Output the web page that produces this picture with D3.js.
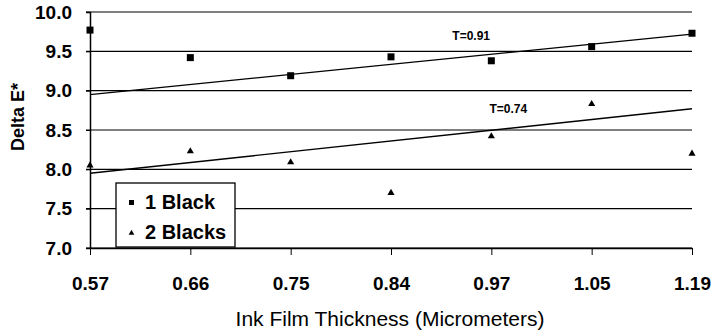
<!DOCTYPE html>
<html>
<head>
<meta charset="utf-8">
<script src="https://cdn.jsdelivr.net/npm/d3@7"></script>
<style>
  body { margin: 0; background: #fff; }
  svg { font-family: Arial, "Liberation Sans", sans-serif; }
</style>
</head>
<body>
<svg id="chart" width="715" height="332"></svg>
<script>
// data
var thickness = ["0.57", "0.66", "0.75", "0.84", "0.97", "1.05", "1.19"];
var oneBlack = [9.77, 9.42, 9.19, 9.43, 9.38, 9.56, 9.73];
var twoBlacks = [8.05, 8.23, 8.09, 7.70, 8.42, 8.83, 8.20];
var yTicks = [7.0, 7.5, 8.0, 8.5, 9.0, 9.5, 10.0];
// trend lines as drawn (start / end values)
var trendOne = [8.95, 9.72];
var trendTwo = [7.95, 8.77];
var trendLabels = ["T=0.91", "T=0.74"];

var margin = {top: 12, right: 23, bottom: 84, left: 90};
var width = 715 - margin.left - margin.right;
var height = 332 - margin.top - margin.bottom;

var svg = d3.select("#chart");
var g = svg.append("g")
  .attr("transform", "translate(" + margin.left + "," + margin.top + ")");

var x = d3.scalePoint().domain(thickness).range([0, width]);
var y = d3.scaleLinear().domain([7, 10]).range([height, 0]);

// gridlines
g.selectAll(".grid").data(yTicks).enter().append("line")
  .attr("x1", -4).attr("x2", width)
  .attr("y1", function(d) { return y(d); })
  .attr("y2", function(d) { return y(d); })
  .attr("stroke", "#000").attr("stroke-width", 1.2);

// y axis
var yAxis = g.append("g")
  .call(d3.axisLeft(y).tickValues(yTicks).tickFormat(d3.format(".1f")).tickSize(4).tickPadding(14));
yAxis.select(".domain").attr("stroke-width", 1.5);
yAxis.selectAll("text").style("font-size", "19px").style("font-weight", "bold").attr("fill", "#000");

// x axis
var xAxis = g.append("g")
  .attr("transform", "translate(0," + height + ")")
  .call(d3.axisBottom(x).tickSize(7).tickSizeOuter(0).tickPadding(22));
xAxis.select(".domain").attr("stroke-width", 1.5);
xAxis.selectAll("text").style("font-size", "19px").style("font-weight", "bold").attr("fill", "#000");

// trend lines
var line = d3.line().x(function(d) { return x(d[0]); }).y(function(d) { return y(d[1]); });
[trendOne, trendTwo].forEach(function(t) {
  g.append("path")
    .datum([[thickness[0], t[0]], [thickness[thickness.length - 1], t[1]]])
    .attr("d", line)
    .attr("fill", "none").attr("stroke", "#000").attr("stroke-width", 1.3);
});

g.append("text").text(trendLabels[0])
  .attr("x", (x("0.84") + x("0.97")) / 2 + 30).attr("y", y(9.65))
  .attr("text-anchor", "middle").style("font-size", "12px").style("font-weight", "bold");
g.append("text").text(trendLabels[1])
  .attr("x", x("0.97") + 17).attr("y", y(8.72))
  .attr("text-anchor", "middle").style("font-size", "12px").style("font-weight", "bold");

// points
g.selectAll(".sq").data(oneBlack).enter().append("rect")
  .attr("x", function(d, i) { return x(thickness[i]) - 3.5; })
  .attr("y", function(d) { return y(d) - 3.5; })
  .attr("width", 7).attr("height", 7).attr("fill", "#000");

var tri = d3.symbol().type(d3.symbolTriangle).size(22);
g.selectAll(".tri").data(twoBlacks).enter().append("path")
  .attr("d", tri)
  .attr("transform", function(d, i) { return "translate(" + x(thickness[i]) + "," + y(d) + ")"; })
  .attr("fill", "#000");

// legend
var lg = svg.append("g").attr("transform", "translate(116,183)");
lg.append("rect").attr("width", 119).attr("height", 64)
  .attr("fill", "#fff").attr("stroke", "#000").attr("stroke-width", 1.3);
lg.append("rect").attr("x", 13).attr("y", 17).attr("width", 5).attr("height", 5).attr("fill", "#000");
lg.append("path").attr("d", d3.symbol().type(d3.symbolTriangle).size(14))
  .attr("transform", "translate(15.5,50)").attr("fill", "#000");
lg.append("text").text("1 Black").attr("x", 29).attr("y", 26)
  .style("font-size", "20px").style("font-weight", "bold");
lg.append("text").text("2 Blacks").attr("x", 29).attr("y", 56)
  .style("font-size", "20px").style("font-weight", "bold");

// axis titles
svg.append("text").text("Ink Film Thickness (Micrometers)")
  .attr("x", 390).attr("y", 326).attr("text-anchor", "middle")
  .style("font-size", "21px");
svg.append("text").text("Delta E*")
  .attr("transform", "translate(24,117) rotate(-90)")
  .attr("text-anchor", "middle")
  .style("font-size", "18px").style("font-weight", "bold");
</script>
</body>
</html>
